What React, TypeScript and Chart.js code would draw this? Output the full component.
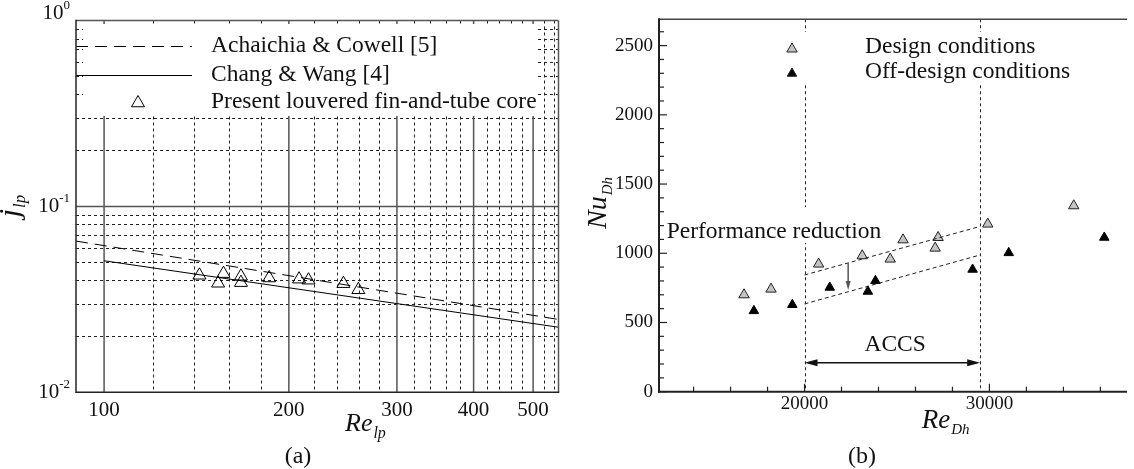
import React, { useEffect, useRef } from "react";
import { Chart, registerables } from "chart.js";
Chart.register(...registerables);

const SERIF = '"Liberation Serif", "Times New Roman", serif';

// ---------------- Panel (a) data ----------------
const aPresentRe = [143, 153.4, 156.5, 167.1, 167.1, 185.8, 207.8, 215.3, 245.4, 259.6];
const aPresentJ = [0.0426, 0.0386, 0.0435, 0.0421, 0.0389, 0.0412, 0.0406, 0.0401, 0.0384, 0.0356];
const aAchaichiaRe = [90, 550];
const aAchaichiaJ = [0.0651, 0.02465];
const aChangRe = [100, 550];
const aChangJ = [0.051, 0.02239];
const aXMajor = [100, 200, 300, 400, 500];
const aXMinor = [120, 140, 160, 180, 220, 240, 260, 280, 320, 340, 360, 380, 420, 440, 460, 480, 520, 540];
const aYMajor = [0.01, 0.1, 1];
const aYMinor = [0.02, 0.03, 0.04, 0.05, 0.06, 0.07, 0.08, 0.09, 0.2, 0.3, 0.4, 0.5, 0.6, 0.7, 0.8, 0.9];
const aXRange = [90, 550];
const aYRange = [0.01, 1];
const aLegendLabels = ["Achaichia & Cowell [5]", "Chang & Wang [4]", "Present louvered fin-and-tube core"];

// ---------------- Panel (b) data ----------------
const bDesignRe = [16729, 18189, 20762, 23122, 24635, 25328, 27065, 27225, 29909, 34561];
const bDesignNu = [700, 741, 922, 982, 958, 1097, 1037, 1114, 1211, 1343];
const bOffRe = [17262, 19339, 21364, 23426, 23836, 29089, 31044, 36212];
const bOffNu = [584, 628, 753, 724, 801, 883, 1003, 1114];
const bUpperRe = [20000, 29500];
const bUpperNu = [843, 1194];
const bLowerRe = [20000, 29500];
const bLowerNu = [634, 988];
const bAccsRe = [20000, 29500];
const bAccsArrowNu = 210;
const bAccsTextPos = [24900, 337];
const bReductionRe = 22360;
const bReductionNu = [928, 735];
const bXMajor = [20000, 30000];
const bXMinor = [14000, 16000, 18000, 22000, 24000, 26000, 28000, 32000, 34000, 36000];
const bYMajor = [0, 500, 1000, 1500, 2000, 2500];
const bYMinor = [100, 200, 300, 400, 600, 700, 800, 900, 1100, 1200, 1300, 1400, 1600, 1700, 1800, 1900, 2100, 2200, 2300, 2400, 2600];
const bXRange = [12130, 37440];
const bYRange = [0, 2690];
const bLegendLabels = ["Design conditions", "Off-design conditions"];

// ---------------- helpers ----------------
function vline(ctx: any, x: number, y1: number, y2: number) {
  ctx.beginPath(); ctx.moveTo(x, y1); ctx.lineTo(x, y2); ctx.stroke();
}
function hline(ctx: any, x1: number, x2: number, y: number) {
  ctx.beginPath(); ctx.moveTo(x1, y); ctx.lineTo(x2, y); ctx.stroke();
}
function triPath(ctx: any, x: number, y: number, r: number) {
  ctx.beginPath();
  for (let k = 0; k < 3; k++) {
    const a = (k * 2 * Math.PI) / 3;
    const px = x + Math.sin(a) * r;
    const py = y - Math.cos(a) * r;
    if (k === 0) ctx.moveTo(px, py); else ctx.lineTo(px, py);
  }
  ctx.closePath();
}
function arrowHead(ctx: any, tx: number, ty: number, dx: number, dy: number, len: number, half: number) {
  const n = Math.hypot(dx, dy); const ux = dx / n, uy = dy / n;
  const bx = tx - ux * len, by = ty - uy * len;
  ctx.beginPath();
  ctx.moveTo(tx, ty);
  ctx.lineTo(bx - uy * half, by + ux * half);
  ctx.lineTo(bx + uy * half, by - ux * half);
  ctx.closePath();
  ctx.fill();
}
function subText(ctx: any, x: number, baseY: number, main: string, sub: string, mainPx: number, subPx: number, drop: number) {
  ctx.textAlign = "left";
  ctx.textBaseline = "alphabetic";
  ctx.font = `italic ${mainPx}px ${SERIF}`;
  ctx.fillText(main, x, baseY);
  const w = ctx.measureText(main).width;
  ctx.font = `italic ${subPx}px ${SERIF}`;
  ctx.fillText(sub, x + w + 1, baseY + drop);
}
function subTextWidth(ctx: any, main: string, sub: string, mainPx: number, subPx: number) {
  ctx.font = `italic ${mainPx}px ${SERIF}`;
  const w1 = ctx.measureText(main).width;
  ctx.font = `italic ${subPx}px ${SERIF}`;
  return w1 + 1 + ctx.measureText(sub).width;
}
function drawPow(ctx: any, rightX: number, midY: number, exp: string) {
  ctx.font = `13px ${SERIF}`;
  const sw = ctx.measureText(exp).width;
  ctx.textAlign = "left"; ctx.textBaseline = "middle";
  ctx.fillText(exp, rightX - sw, midY - 8);
  ctx.font = `21px ${SERIF}`;
  ctx.textAlign = "right";
  ctx.fillText("10", rightX - sw, midY);
}

// ---------------- panel (a) plugin ----------------
const pluginA = {
  id: "panelA",
  beforeDatasetsDraw(chart: any) {
    const { ctx, chartArea: ca } = chart;
    const xs = chart.scales.x, ys = chart.scales.y;
    const X = (v: number) => xs.getPixelForValue(v);
    const Y = (v: number) => ys.getPixelForValue(v);
    const crisp = (p: number) => Math.round(p) + 0.5;
    ctx.save();
    ctx.fillStyle = "#fff";
    ctx.fillRect(0, 0, chart.width, chart.height);
    // grid
    ctx.lineWidth = 1; ctx.strokeStyle = "#222"; ctx.setLineDash([3, 3]);
    for (const v of aXMinor) vline(ctx, crisp(X(v)), ca.top, ca.bottom);
    for (const v of aYMinor) hline(ctx, ca.left, ca.right, crisp(Y(v)));
    ctx.setLineDash([]);
    ctx.strokeStyle = "#555"; ctx.lineWidth = 1.5;
    for (const v of aXMajor) vline(ctx, X(v), ca.top, ca.bottom);
    for (const v of aYMajor) if (v > aYRange[0] && v < aYRange[1]) hline(ctx, ca.left, ca.right, Y(v));
    // legend box
    ctx.fillStyle = "#fff";
    ctx.fillRect(ca.left + 7, ca.top + 3.5, 455, 92);
    ctx.strokeStyle = "#000"; ctx.lineWidth = 1;
    ctx.setLineDash([12, 7]);
    hline(ctx, ca.left, ca.left + 116, 46.5);
    ctx.setLineDash([]);
    hline(ctx, ca.left, ca.left + 116, 75.5);
    triPath(ctx, 138, 103, 7.5); ctx.stroke();
    ctx.fillStyle = "#111";
    ctx.font = `23.5px ${SERIF}`;
    ctx.textAlign = "left"; ctx.textBaseline = "middle";
    ctx.fillText(aLegendLabels[0], 211, 46);
    ctx.fillText(aLegendLabels[1], 211, 75);
    ctx.fillText(aLegendLabels[2], 211, 102);
    // tick labels
    ctx.font = `21px ${SERIF}`;
    ctx.textAlign = "center"; ctx.textBaseline = "middle";
    for (const v of aXMajor) ctx.fillText(String(v), X(v), 410);
    for (const v of aYMajor) {
      const e = Math.round(Math.log10(v));
      let yy = Y(v);
      if (v === aYRange[1]) yy -= 7;
      drawPow(ctx, 70, yy, String(e));
    }
    // axis titles
    subText(ctx, 345, 431, "Re", "lp", 26, 16, 7);
    ctx.save();
    ctx.translate(19, 206);
    ctx.rotate(-Math.PI / 2);
    const w = subTextWidth(ctx, "j", "lp", 30, 17);
    subText(ctx, -w / 2, 0, "j", "lp", 30, 17, 6);
    ctx.restore();
    // caption
    ctx.font = `24px ${SERIF}`;
    ctx.textAlign = "center"; ctx.textBaseline = "middle";
    ctx.fillText("(a)", 298, 457);
    ctx.restore();
  },
  afterDatasetsDraw(chart: any) {
    const { ctx, chartArea: ca } = chart;
    ctx.save();
    ctx.lineWidth = 1.5;
    ctx.strokeStyle = "#555";
    hline(ctx, ca.left, ca.right, ca.top);
    vline(ctx, ca.right, ca.top, ca.bottom);
    ctx.strokeStyle = "#222";
    vline(ctx, ca.left, ca.top - 0.75, ca.bottom + 0.75);
    hline(ctx, ca.left, ca.right + 0.75, ca.bottom);
    ctx.restore();
  },
};

// ---------------- panel (b) plugin ----------------
const pluginB = {
  id: "panelB",
  beforeDatasetsDraw(chart: any) {
    const { ctx, chartArea: ca } = chart;
    const xs = chart.scales.x, ys = chart.scales.y;
    const X = (v: number) => xs.getPixelForValue(v);
    const Y = (v: number) => ys.getPixelForValue(v);
    const crisp = (p: number) => Math.round(p) + 0.5;
    ctx.save();
    ctx.fillStyle = "#fff";
    ctx.fillRect(0, 0, chart.width, chart.height);
    // ACCS bounds
    ctx.strokeStyle = "#222"; ctx.lineWidth = 1; ctx.setLineDash([3, 3]);
    for (const v of bAccsRe) vline(ctx, crisp(X(v)), ca.top, ca.bottom);
    ctx.setLineDash([]);
    // boxes
    ctx.fillStyle = "#fff";
    ctx.fillRect(213, 32, 295, 53);
    ctx.fillRect(95, 207, 224, 36);
    // legend
    triPath(ctx, 225, 49, 6);
    ctx.fillStyle = "#c4c4c4"; ctx.fill();
    ctx.strokeStyle = "#222"; ctx.lineWidth = 1; ctx.stroke();
    triPath(ctx, 225, 73.5, 5.5);
    ctx.fillStyle = "#000"; ctx.fill(); ctx.stroke();
    ctx.fillStyle = "#111";
    ctx.font = `23.5px ${SERIF}`;
    ctx.textAlign = "left"; ctx.textBaseline = "middle";
    ctx.fillText(bLegendLabels[0], 298, 47);
    ctx.fillText(bLegendLabels[1], 298, 72);
    // annotation text
    ctx.fillText("Performance reduction", 99.7, 231.5);
    ctx.textAlign = "center";
    ctx.fillText("ACCS", X(bAccsTextPos[0]), Y(bAccsTextPos[1]));
    // ACCS arrow
    const ay = Y(bAccsArrowNu);
    const ax1 = X(bAccsRe[0]), ax2 = X(bAccsRe[1]);
    ctx.strokeStyle = "#111"; ctx.lineWidth = 1.5;
    hline(ctx, ax1 + 6, ax2 - 6, ay);
    ctx.fillStyle = "#111";
    arrowHead(ctx, ax1, ay, -1, 0, 13, 3.5);
    arrowHead(ctx, ax2, ay, 1, 0, 13, 3.5);
    // reduction arrow
    const rx = X(bReductionRe);
    const ry1 = Y(bReductionNu[0]), ry2 = Y(bReductionNu[1]);
    ctx.strokeStyle = "#555"; ctx.fillStyle = "#555"; ctx.lineWidth = 1.5;
    vline(ctx, rx, ry1, ry2 - 5);
    arrowHead(ctx, rx, ry2, 0, 1, 9, 2.5);
    // tick labels
    ctx.fillStyle = "#111";
    ctx.font = `19px ${SERIF}`;
    ctx.textAlign = "right"; ctx.textBaseline = "middle";
    for (const v of bYMajor) ctx.fillText(String(v), 86, Y(v));
    ctx.textAlign = "center";
    for (const v of bXMajor) ctx.fillText(String(v), X(v), 404);
    // titles
    subText(ctx, 354.7, 428, "Re", "Dh", 27, 15, 6);
    ctx.save();
    ctx.translate(39, 203);
    ctx.rotate(-Math.PI / 2);
    const w = subTextWidth(ctx, "Nu", "Dh", 28, 15);
    subText(ctx, -w / 2, 0, "Nu", "Dh", 28, 15, 6);
    ctx.restore();
    ctx.font = `24px ${SERIF}`;
    ctx.textAlign = "center"; ctx.textBaseline = "middle";
    ctx.fillText("(b)", 295, 457);
    ctx.restore();
  },
  afterDatasetsDraw(chart: any) {
    const { ctx, chartArea: ca } = chart;
    const xs = chart.scales.x, ys = chart.scales.y;
    const X = (v: number) => xs.getPixelForValue(v);
    const Y = (v: number) => ys.getPixelForValue(v);
    ctx.save();
    ctx.strokeStyle = "#444"; ctx.lineWidth = 1.5;
    hline(ctx, ca.left, ca.right, ca.top);
    ctx.strokeStyle = "#222"; ctx.lineWidth = 2;
    vline(ctx, ca.left, ca.top - 1, ca.bottom + 1);
    hline(ctx, ca.left - 1, ca.right, ca.bottom);
    ctx.lineWidth = 1.2;
    for (const v of bYMajor) hline(ctx, ca.left, ca.left + 8, Y(v));
    for (const v of bYMinor) hline(ctx, ca.left, ca.left + 5, Y(v));
    for (const v of bXMajor) vline(ctx, X(v), ca.bottom, ca.bottom - 8);
    for (const v of bXMinor) vline(ctx, X(v), ca.bottom, ca.bottom - 5);
    ctx.restore();
  },
};

function pts(xs: number[], ys: number[]) {
  return xs.map((x, i) => ({ x, y: ys[i] }));
}

export default function App() {
  const aRef = useRef<HTMLCanvasElement>(null);
  const bRef = useRef<HTMLCanvasElement>(null);

  useEffect(() => {
    const chartA = new Chart(aRef.current as HTMLCanvasElement, {
      type: "scatter",
      data: {
        datasets: [
          { type: "line", label: aLegendLabels[0], data: pts(aAchaichiaRe, aAchaichiaJ), borderColor: "#000", borderWidth: 1, borderDash: [12, 7], pointRadius: 0, fill: false } as any,
          { type: "line", label: aLegendLabels[1], data: pts(aChangRe, aChangJ), borderColor: "#000", borderWidth: 1, pointRadius: 0, fill: false } as any,
          { label: aLegendLabels[2], data: pts(aPresentRe, aPresentJ), pointStyle: "triangle", pointRadius: 7.5, borderColor: "#000", borderWidth: 1, backgroundColor: "rgba(0,0,0,0)" } as any,
        ],
      },
      options: {
        responsive: false,
        animation: false,
        events: [],
        layout: { padding: { left: 76, right: 7, top: 20.5, bottom: 76.7 } },
        plugins: { legend: { display: false }, tooltip: { enabled: false } },
        scales: {
          x: { type: "logarithmic", min: aXRange[0], max: aXRange[1], display: false },
          y: { type: "logarithmic", min: aYRange[0], max: aYRange[1], display: false },
        },
      } as any,
      plugins: [pluginA],
    });

    const chartB = new Chart(bRef.current as HTMLCanvasElement, {
      type: "scatter",
      data: {
        datasets: [
          { type: "line", data: pts(bUpperRe, bUpperNu), borderColor: "#222", borderWidth: 1, borderDash: [4, 3], pointRadius: 0, fill: false } as any,
          { type: "line", data: pts(bLowerRe, bLowerNu), borderColor: "#222", borderWidth: 1, borderDash: [4, 3], pointRadius: 0, fill: false } as any,
          { label: bLegendLabels[0], data: pts(bDesignRe, bDesignNu), pointStyle: "triangle", pointRadius: 6, borderColor: "#222", borderWidth: 1, backgroundColor: "#c4c4c4" } as any,
          { label: bLegendLabels[1], data: pts(bOffRe, bOffNu), pointStyle: "triangle", pointRadius: 5.5, borderColor: "#000", borderWidth: 1, backgroundColor: "#000" } as any,
        ],
      },
      options: {
        responsive: false,
        animation: false,
        events: [],
        layout: { padding: { left: 92, right: 0, top: 19.3, bottom: 77.3 } },
        plugins: { legend: { display: false }, tooltip: { enabled: false } },
        scales: {
          x: { type: "linear", min: bXRange[0], max: bXRange[1], display: false },
          y: { type: "linear", min: bYRange[0], max: bYRange[1], display: false },
        },
      } as any,
      plugins: [pluginB],
    });

    return () => {
      chartA.destroy();
      chartB.destroy();
    };
  }, []);

  return (
    <div style={{ position: "fixed", left: 0, top: 0, width: 1134, height: 469, background: "#fff", overflow: "hidden" }}>
      <canvas ref={aRef} width={567} height={469} style={{ position: "absolute", left: 0, top: 0, width: 567, height: 469 }} />
      <canvas ref={bRef} width={567} height={469} style={{ position: "absolute", left: 567, top: 0, width: 567, height: 469 }} />
    </div>
  );
}
